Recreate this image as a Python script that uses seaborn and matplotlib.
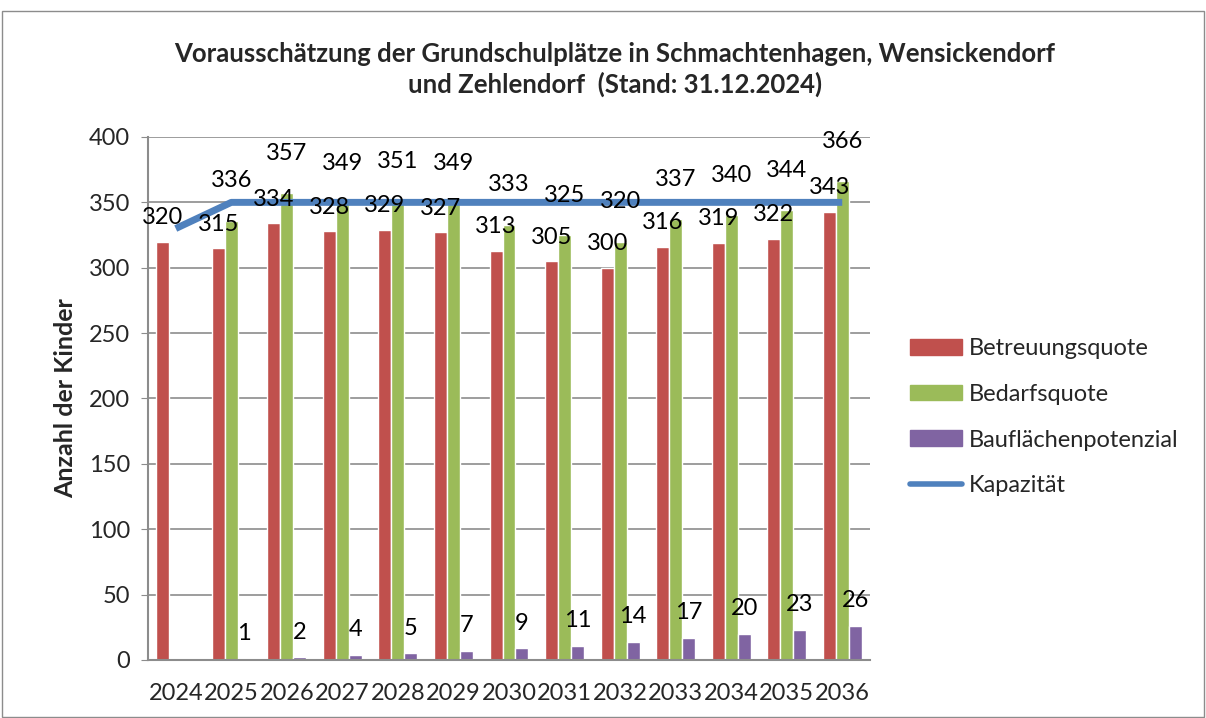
import numpy as np
import pandas as pd
import matplotlib
matplotlib.use("Agg")
import matplotlib.pyplot as plt
import seaborn as sns
from matplotlib.patches import Patch, Rectangle
from matplotlib.lines import Line2D

years = [str(y) for y in range(2024, 2037)]
betreuung = [320, 315, 334, 328, 329, 327, 313, 305, 300, 316, 319, 322, 343]
bedarf = [np.nan, 336, 357, 349, 351, 349, 333, 325, 320, 337, 340, 344, 366]
bauflaeche = [np.nan, 1, 2, 4, 5, 7, 9, 11, 14, 17, 20, 23, 26]
kapazitaet = [330, 350, 350, 350, 350, 350, 350, 350, 350, 350, 350, 350, 350]

series = ["Betreuungsquote", "Bedarfsquote", "Baufl\u00e4chenpotenzial"]
colors = ["#C0504D", "#9BBB59", "#8064A2"]
line_color = "#4F81BD"

df = pd.DataFrame({
    "Jahr": years * 3,
    "Serie": [s for s in series for _ in years],
    "Wert": betreuung + bedarf + bauflaeche,
})

sns.set_style("white")
plt.rcParams['font.family'] = ['Lato', 'DejaVu Sans']

fig = plt.figure(figsize=(12.06, 7.18), dpi=100)
ax = fig.add_axes([0.1227, 0.0808, 0.5987, 0.7284])

sns.barplot(data=df, x="Jahr", y="Wert", hue="Serie", palette=colors,
            width=0.7, ax=ax, legend=False, saturation=1)

ax.plot(range(len(years)), kapazitaet, color=line_color, lw=5, zorder=3,
        solid_capstyle="butt")

# data labels
offsets = [24, 40, 25]
for i, (vals, off) in enumerate(zip([betreuung, bedarf, bauflaeche], offsets)):
    dx = (i - 1) * 0.7 / 3
    for j, v in enumerate(vals):
        if np.isnan(v):
            continue
        ax.annotate(f"{int(v)}", (j + dx, v), xytext=(0, off),
                    textcoords="offset pixels", ha="center", va="center",
                    fontsize=17, color="black", zorder=5)

ax.set_xlim(-0.5, 12.5)
ax.set_ylim(0, 400)
ax.set_yticks(range(0, 401, 50))
ax.yaxis.grid(True, color="#8C8C8C", lw=1.2)
ax.set_axisbelow(True)
for s in ["top", "right"]:
    ax.spines[s].set_visible(False)
for s in ["left", "bottom"]:
    ax.spines[s].set_color("#8C8C8C")
    ax.spines[s].set_linewidth(1.5)
ax.tick_params(axis="y", which="both", left=True, length=5, color="#8C8C8C",
               labelsize=17, pad=8)
ax.tick_params(axis="x", bottom=False, labelsize=17, pad=13)
ax.set_xlabel("")
ax.set_ylabel("Anzahl der Kinder", fontsize=18, fontweight="bold", labelpad=8)

fig.text(0.51, 0.903, "Vorausschätzung der Grundschulplätze in Schmachtenhagen, Wensickendorf\n"
         "und Zehlendorf  (Stand: 31.12.2024)", ha="center", va="center",
         fontsize=18.5, fontweight="bold", linespacing=1.3)

handles = [Patch(color=c, label=s) for c, s in zip(colors, series)]
handles.append(Line2D([0], [0], color=line_color, lw=4, label="Kapazit\u00e4t"))
fig.legend(handles=handles, loc="center left", bbox_to_anchor=(0.737, 0.419),
           frameon=False, fontsize=17, handlelength=2.2, handleheight=0.65,
           labelspacing=1.05, handletextpad=0.3)

fig.patches.append(Rectangle((0.002, 0.002), 0.996, 0.983, transform=fig.transFigure,
                             fill=False, edgecolor="#8C8C8C", lw=1))

fig.savefig("out.png", dpi=100)
